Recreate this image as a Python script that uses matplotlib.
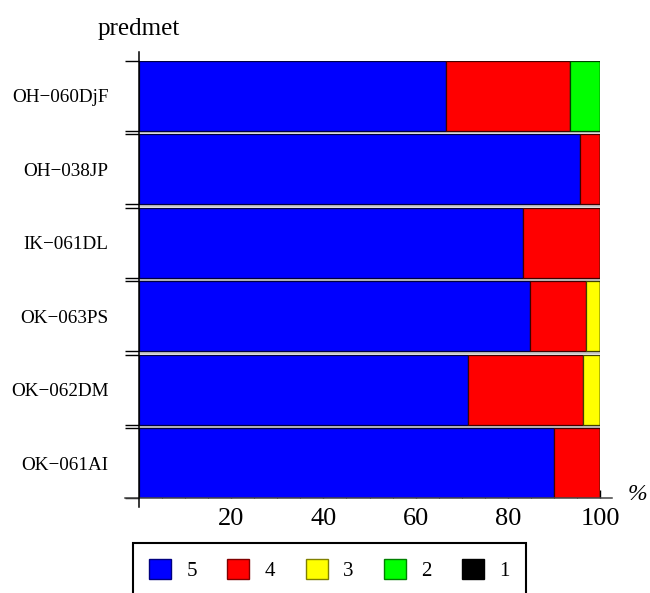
import numpy as np
import matplotlib.pyplot as plt
import matplotlib.patches as mpatches
from matplotlib.colors import to_rgb

# data: share of each grade (%) per subject
subjects = ["OH\u2212060DjF", "OH\u2212038JP", "IK\u2212061DL",
            "OK\u2212063PS", "OK\u2212062DM", "OK\u2212061AI"]
grade5 = [66.7, 95.7, 83.3, 84.8, 71.4, 90.0]
grade4 = [26.7, 4.3, 16.7, 12.1, 25.0, 10.0]
grade3 = [0.0, 0.0, 0.0, 3.1, 3.6, 0.0]
grade2 = [6.6, 0.0, 0.0, 0.0, 0.0, 0.0]
grade1 = [0.0, 0.0, 0.0, 0.0, 0.0, 0.0]
grade_labels = ["5", "4", "3", "2", "1"]
xticks = [20, 40, 60, 80, 100]

colors = ["#0000ff", "#ff0000", "#ffff00", "#00ff00", "#000000"]


def darker(c, f=0.55):
    return tuple(v * f for v in to_rgb(c))


plt.rcParams["font.family"] = ["Liberation Serif", "DejaVu Serif"]

W, H = 650, 593
fig = plt.figure(figsize=(W / 100, H / 100), dpi=100)
ax_left, ax_right, ax_top, ax_bot = 139, 600, 60.7, 498.3
ax = fig.add_axes([ax_left / W, 1 - ax_bot / H,
                   (ax_right - ax_left) / W, (ax_bot - ax_top) / H])

pos = np.arange(len(subjects))
bar_h = 0.95
series = [grade5, grade4, grade3, grade2, grade1]
left = np.zeros(len(subjects))
for vals, col in zip(series, colors):
    vals = np.array(vals)
    ax.barh(pos, vals, height=bar_h, left=left, color=col,
            edgecolor=darker(col, 0.25), linewidth=0.9, zorder=3)
    left += vals

# light gray separators between bars
ax.hlines(pos[:-1] + 0.5, 0, 100, color="#c8c8c8", lw=1.6, zorder=2)

y_top = -bar_h / 2
y_bot = len(subjects) - 1 + bar_h / 2
ax.set_xlim(0, 100)
ax.set_ylim(y_bot, y_top)
for s in ax.spines.values():
    s.set_visible(False)

# axis lines (crossing at origin, extending past the plot)
ax.plot([-3.0, 102.6], [y_bot, y_bot], color="#444444",
        lw=1.1, clip_on=False, zorder=4)
ax.plot([0, 0], [y_top - 0.12, y_bot + 0.12], color="black",
        lw=1.1, clip_on=False, zorder=4)

ax.set_xticks(xticks)
ax.set_xticks(np.arange(5, 100, 5), minor=True)
ax.tick_params(axis="x", which="major", direction="in", length=6,
               width=1, labelsize=19, pad=7)
ax.tick_params(axis="x", which="minor", direction="in", length=3, width=0.8)

ax.set_yticks(pos)
ax.set_yticklabels(subjects)
edges = np.concatenate([pos - bar_h / 2, pos + bar_h / 2])
ax.set_yticks(edges, minor=True)
ax.tick_params(axis="y", which="major", length=0, labelsize=13.8, pad=22)
ax.tick_params(axis="y", which="minor", direction="out", length=10, width=1)

fig.text(98 / W, 1 - 35 / H, "predmet", fontsize=18, va="baseline")
fig.text(637 / W, 1 - 495 / H, "%", fontsize=17, style="italic",
         ha="center", va="center")

handles = [mpatches.Patch(facecolor=c, edgecolor=darker(c, 0.5), lw=1)
           for c in colors]
leg = fig.legend(handles, grade_labels, loc="upper left",
                 bbox_to_anchor=(133 / W, 1 - 543 / H), ncol=5,
                 fontsize=15, handlelength=1.05, handleheight=1.05,
                 handletextpad=0.75, columnspacing=1.45, borderpad=0.78,
                 borderaxespad=0, fancybox=False, frameon=True)
fr = leg.get_frame()
fr.set_edgecolor("black")
fr.set_linewidth(1.5)
fr.set_alpha(1)

fig.savefig("out.png", dpi=100)
